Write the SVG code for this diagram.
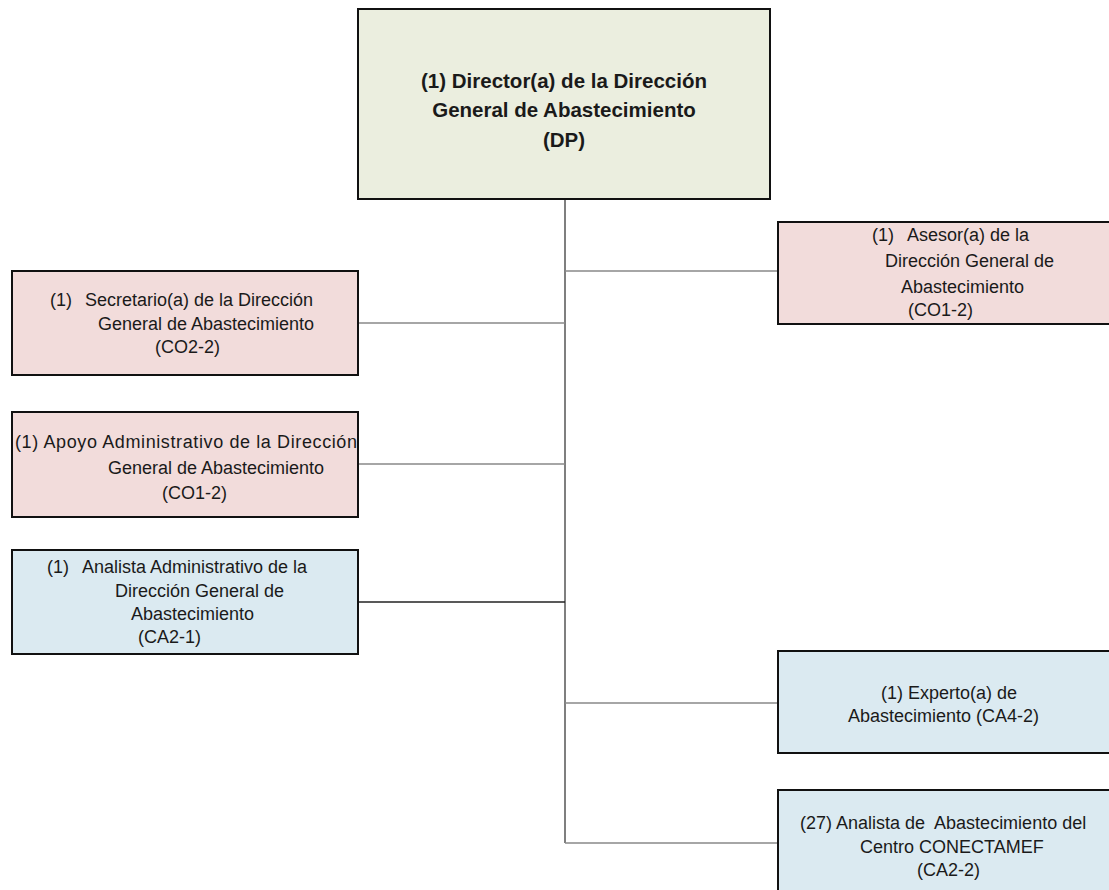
<svg xmlns="http://www.w3.org/2000/svg" width="1109" height="890" viewBox="0 0 1109 890">
<style>
.box{stroke:#111;stroke-width:2}
.g{fill:#ebeedf}
.p{fill:#f2dcdb}
.b{fill:#dbeaf1}
text{font-family:"Liberation Sans",Arial,sans-serif;font-size:18px;fill:#1a1a1a}
.t{font-size:20.5px;font-weight:bold;text-anchor:middle}
.m{text-anchor:middle}
.c{fill:none;stroke:#888;stroke-width:1.5}
</style>
<rect width="1109" height="890" fill="#fff"/>
<g id="connectors">
<line class="c" x1="565" y1="199" x2="565" y2="843" style="stroke:#555"/>
<line class="c" x1="565" y1="271" x2="778" y2="271"/>
<line class="c" x1="358" y1="323" x2="565" y2="323"/>
<line class="c" x1="358" y1="464" x2="565" y2="464"/>
<line class="c" x1="358" y1="602" x2="565" y2="602" style="stroke:#222"/>
<line class="c" x1="565" y1="703" x2="778" y2="703"/>
<line class="c" x1="565" y1="843" x2="778" y2="843"/>
</g>
<g id="director">
<rect class="box g" x="358" y="9" width="412" height="190"/>
<text class="t" x="564" y="88">(1) Director(a) de la Dirección</text>
<text class="t" x="564" y="117">General de Abastecimiento</text>
<text class="t" x="564" y="147">(DP)</text>
</g>
<g id="asesor">
<rect class="box p" x="778" y="222" width="332" height="102"/>
<text x="872" y="241">(1)</text>
<text x="907" y="241">Asesor(a) de la</text>
<text x="885" y="267">Dirección General de</text>
<text x="901" y="293">Abastecimiento</text>
<text x="908" y="316">(CO1-2)</text>
</g>
<g id="secretario">
<rect class="box p" x="12" y="271" width="346" height="104"/>
<text x="50" y="306">(1)</text>
<text x="85" y="306">Secretario(a) de la Dirección</text>
<text x="98" y="330">General de Abastecimiento</text>
<text x="155" y="353">(CO2-2)</text>
</g>
<g id="apoyo">
<rect class="box p" x="12" y="412" width="346" height="105"/>
<text class="m" x="186" y="448" textLength="342" lengthAdjust="spacing">(1) Apoyo Administrativo de la Dirección</text>
<text x="108" y="474">General de Abastecimiento</text>
<text x="162" y="499">(CO1-2)</text>
</g>
<g id="analista-administrativo">
<rect class="box b" x="12" y="550" width="346" height="104"/>
<text x="47" y="573">(1)</text>
<text x="82" y="573">Analista Administrativo de la</text>
<text x="115" y="597">Dirección General de</text>
<text x="131" y="620">Abastecimiento</text>
<text x="138" y="643">(CA2-1)</text>
</g>
<g id="experto">
<rect class="box b" x="778" y="651" width="332" height="102"/>
<text x="881" y="699">(1) Experto(a) de</text>
<text x="848" y="722">Abastecimiento  (CA4-2)</text>
</g>
<g id="analista-conectamef">
<rect class="box b" x="778" y="790" width="332" height="102"/>
<text x="800" y="829" xml:space="preserve">(27) Analista de  Abastecimiento del</text>
<text x="860" y="853">Centro CONECTAMEF</text>
<text x="917" y="876">(CA2-2)</text>
</g>
</svg>
